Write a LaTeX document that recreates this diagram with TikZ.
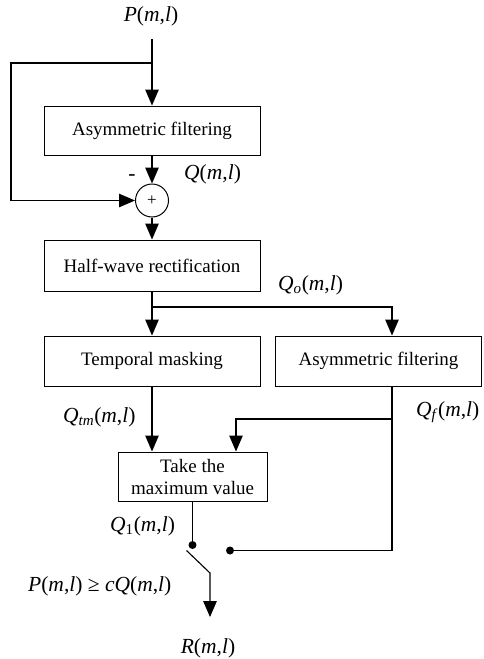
\documentclass[tikz,border=0pt]{standalone}
\usepackage{fontspec}
\setmainfont{Liberation Serif}
\usetikzlibrary{arrows.meta}
% italic variable with (m,l) argument
\newcommand{\fn}[1]{\textit{#1}(\textit{m},\textit{l})}
\newcommand{\fnsub}[2]{\textit{#1}\textsubscript{#2}(\textit{m},\textit{l})}
\begin{document}
\begin{tikzpicture}[x=1pt,y=-1pt,
  font=\fontsize{19}{22}\selectfont,
  blk/.style={draw, line width=1pt, inner sep=0pt, align=center},
  conn/.style={line width=1.1pt},
  arr/.style={conn, -{Triangle[length=16pt,width=13.5pt]}},
  dotn/.style={circle, fill, inner sep=0pt, minimum size=8pt},
  lbl/.style={inner sep=0pt, font=\fontsize{21.5}{24}\selectfont}]
\useasboundingbox (0,0) rectangle (483,659);

% input
\node[lbl] (P) at (151,16) {\fn{P}};

% first filtering stage and subtraction
\node[blk, minimum width=216pt, minimum height=49pt] (af1) at (152,130.5) {Asymmetric filtering};
\node[draw, circle, line width=1pt, minimum size=33pt, inner sep=0pt,
      font=\fontsize{17}{17}\selectfont] (sum) at (152,200.5) {+};
\node[lbl] at (132,178) {-};
\node[lbl, anchor=west] (Q) at (184,174) {\fn{Q}};

\coordinate (b1) at (152,63);
\coordinate (fb) at (11,63);
\draw[arr, shorten <=13pt] (P.south -| af1.north) -- (af1.north);
\draw[arr] (b1) -- (fb) |- (sum.west);
\draw[arr] (af1.south) -- (sum.north);

% rectification
\node[blk, minimum width=216pt, minimum height=51pt] (hw) at (152,265.5) {Half-wave rectification};
\draw[arr] (sum.south) -- (hw.north);
\node[lbl, anchor=west] (Qo) at (278,285) {\fnsub{Q}{\textit{o}}};

% two parallel branches
\node[blk, minimum width=216pt, minimum height=50pt] (tm) at (152,361) {Temporal masking};
\node[blk, minimum width=206pt, minimum height=50pt] (af2) at (378.5,361) {Asymmetric filtering};
\coordinate (b2) at (152,307);
\coordinate (b2r) at (392,307);
\draw[arr] (hw.south) -- (tm.north);
\draw[arr] (b2) -- (b2r) -- (b2r |- af2.north);

\node[lbl, anchor=west] (Qtm) at (63,417) {\fnsub{Q}{\textit{tm}}};
\node[lbl, anchor=west] (Qf) at (416,412) {\fnsub{Q}{\textit{f}}};

% maximum selection
\node[blk, minimum width=149pt, minimum height=49pt, text depth=0pt]
  (mx) at (192.5,476.5) {Take the\\maximum value};
\draw[arr] (tm.south) -- (tm.south |- mx.north);
\coordinate (b3) at (392,419);
\coordinate (b3l) at (236,419);
\draw[arr] (b3) -- (b3l) -- (b3l |- mx.north);

\node[lbl, anchor=west] (Q1) at (110,526) {\fnsub{Q}{1}};

% switch
\node[dotn] (d1) at (192.5,545) {};
\node[dotn] (d2) at (230,550.5) {};
\coordinate (c1) at (392,550.5);
\draw[conn] (mx.south -| d1) -- (d1);
\draw[conn] (af2.south -| c1) -- (c1) -- (d2);

\coordinate (sw0) at (186.5,550.5);
\coordinate (sw1) at (210,573);
\node[lbl] (R) at (208,648) {\fn{R}};
\draw[arr, shorten >=21pt] (sw0) -- (sw1) -- (sw1 |- R.north);
\node[lbl, anchor=west] (cond) at (28,586) {\fn{P} ≥ \textit{c}\fn{Q}};
\end{tikzpicture}
\end{document}
